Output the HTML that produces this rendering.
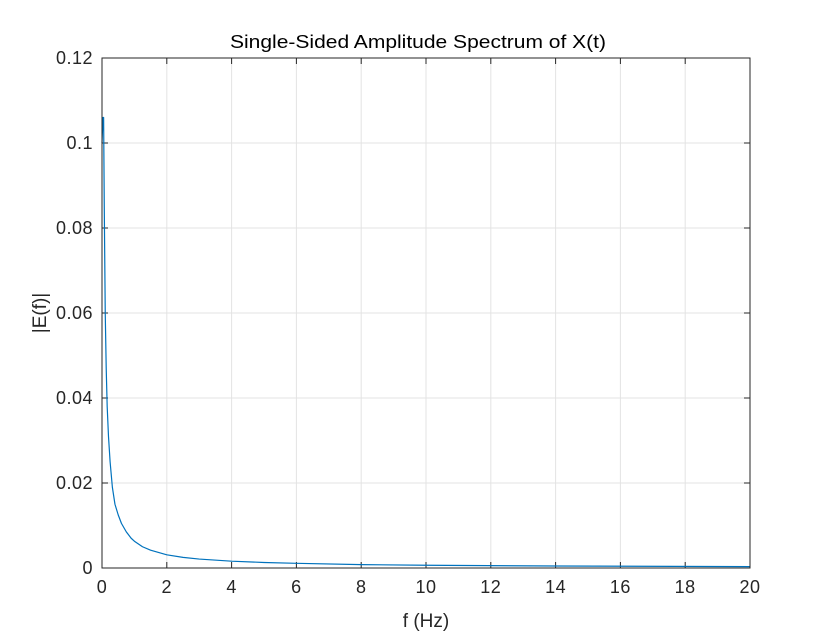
<!DOCTYPE html>
<html><head><meta charset="utf-8"><style>
body{margin:0;background:#fff;}
svg{display:block;font-family:"Liberation Sans",Arial,sans-serif;}
</style></head><body>
<svg id="chart" width="818" height="640">
<rect x="0" y="0" width="818" height="640" fill="#fff"/>
<rect x="102" y="58" width="648" height="510" fill="#fff" stroke="none"/>
<g id="grid"></g>
<g id="ticks"></g>
<polyline id="series" fill="none" stroke="#0072BD" stroke-width="1.2" stroke-linejoin="round"/>
<rect x="102" y="58" width="648" height="510" fill="none" stroke="#262626" stroke-width="1"/>
<text x="418" y="48" text-anchor="middle" font-size="18.5" textLength="376" lengthAdjust="spacingAndGlyphs" fill="#000">Single-Sided Amplitude Spectrum of X(t)</text>
<text x="426" y="627" text-anchor="middle" font-size="19" fill="#262626">f (Hz)</text>
<text transform="translate(46,313) rotate(-90)" text-anchor="middle" font-size="19" fill="#262626">|E(f)|</text>
</svg>
<script>
const freqs=[0,0.03,0.05,0.07,0.1,0.13,0.16,0.2,0.25,0.32,0.4,0.5,0.6,0.75,0.9,1,1.25,1.5,2,2.5,3,4,5,6,8,10,14,20];
const amps=[0.1,0.106,0.106,0.085,0.06,0.047,0.038,0.031,0.025,0.019,0.015,0.0125,0.0105,0.0085,0.007,0.0063,0.005,0.0042,0.0031,0.0025,0.0021,0.0016,0.0013,0.0011,0.0008,0.00065,0.00047,0.00033];
const xTicks=[0,2,4,6,8,10,12,14,16,18,20];
const yTicks=[0,0.02,0.04,0.06,0.08,0.1,0.12];
const yTickLabels=["0","0.02","0.04","0.06","0.08","0.1","0.12"];
const X0=102,X1=750,Y0=568,Y1=58;
const sx=v=>X0+(v-0)/20*(X1-X0);
const sy=v=>Y0-(v-0)/0.12*(Y0-Y1);
const NS="http://www.w3.org/2000/svg";
const grid=document.getElementById('grid'),ticks=document.getElementById('ticks');
function ln(p,x1,y1,x2,y2,c,w){const l=document.createElementNS(NS,'line');l.setAttribute('x1',x1);l.setAttribute('y1',y1);l.setAttribute('x2',x2);l.setAttribute('y2',y2);l.setAttribute('stroke',c);l.setAttribute('stroke-width',w);p.appendChild(l);return l;}
function tx(p,x,y,s,a){const t=document.createElementNS(NS,'text');t.setAttribute('x',x);t.setAttribute('y',y);t.setAttribute('text-anchor',a);t.setAttribute('font-size','18');t.setAttribute('letter-spacing','0.5');t.setAttribute('fill','#262626');t.textContent=s;p.appendChild(t);return t;}
xTicks.forEach(v=>{const x=sx(v);
 const g=ln(grid,x,Y0,x,Y1,'#e3e3e3',1);
 
 
 const k=ln(ticks,x,Y0,x,Y0-6,'#262626',1);
 
 
 const k2=ln(ticks,x,Y1,x,Y1+6,'#262626',1);
 
 
 const t=tx(ticks,x,593,String(v),'middle');
 
 
});
yTicks.forEach((v,i)=>{const y=sy(v);
 const g=ln(grid,X0,y,X1,y,'#e3e3e3',1);
 
 
 const k=ln(ticks,X0,y,X0+6,y,'#262626',1);
 
 
 const k2=ln(ticks,X1,y,X1-6,y,'#262626',1);
 
 
 const t=tx(ticks,93,y+6,yTickLabels[i],'end');
 
 
});
document.getElementById('series').setAttribute('points',freqs.map((f,i)=>sx(f).toFixed(2)+','+sy(amps[i]).toFixed(2)).join(' '));
</script>
</body></html>
